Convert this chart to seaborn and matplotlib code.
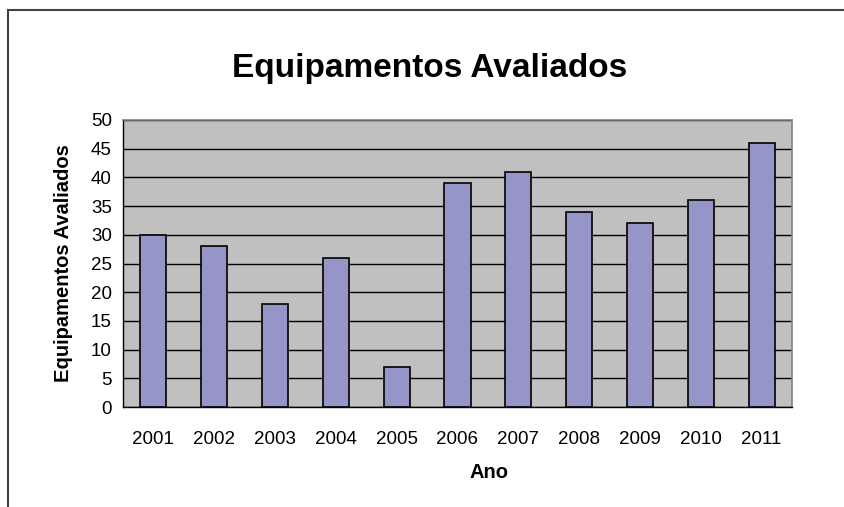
import matplotlib
matplotlib.use("Agg")
import matplotlib.pyplot as plt
import pandas as pd
import seaborn as sns
from matplotlib.patches import Rectangle

years = ["2001", "2002", "2003", "2004", "2005", "2006",
         "2007", "2008", "2009", "2010", "2011"]
counts = [30, 28, 18, 26, 7, 39, 41, 34, 32, 36, 46]
y_ticks = [0, 5, 10, 15, 20, 25, 30, 35, 40, 45, 50]

sns.set_style("white")
plt.rcParams["font.family"] = ["Liberation Sans", "DejaVu Sans"]
plt.rcParams["text.color"] = "black"
plt.rcParams["axes.labelcolor"] = "black"
plt.rcParams["xtick.color"] = "black"
plt.rcParams["ytick.color"] = "black"

df = pd.DataFrame({"Ano": years, "Equipamentos": counts})

fig = plt.figure(figsize=(8.45, 5.07), dpi=100)
fig.patch.set_facecolor("white")

# outer chart border (runs off the right and bottom edge)
fig.add_artist(Rectangle((8.5 / 845, -0.05), 1.2, (1 - 9.5 / 507) + 0.05,
                         transform=fig.transFigure, fill=False,
                         edgecolor="#404040", linewidth=1.5))

ax = fig.add_axes([123 / 845, 1 - 407 / 507, 669 / 845, 287 / 507])
ax.set_facecolor("#C0C0C0")

sns.barplot(data=df, x="Ano", y="Equipamentos", color="#9595C8",
            saturation=1, edgecolor="black", linewidth=1.2, width=0.43, ax=ax,
            zorder=3)

ax.set_ylim(0, 50)
ax.set_xlim(-0.5, len(years) - 0.5)
ax.set_yticks(y_ticks)
ax.yaxis.grid(True, color="black", linewidth=1)
ax.set_axisbelow(True)

for side in ["top", "right"]:
    ax.spines[side].set_color("#808080")
    ax.spines[side].set_linewidth(1.2)
for side in ["left", "bottom"]:
    ax.spines[side].set_color("black")
    ax.spines[side].set_linewidth(1)

# category boundary ticks on the x axis
ax.set_xticks([i - 0.5 for i in range(len(years) + 1)], minor=True)
ax.tick_params(axis="x", which="minor", length=5, width=1, color="black", direction="out")
ax.tick_params(axis="x", which="major", length=0, pad=17, labelsize=13.5)
ax.tick_params(axis="y", length=5, width=1, color="black", direction="out",
               labelsize=13.5, pad=3)

ax.set_xlabel("Ano", fontsize=14.5, fontweight="bold")
ax.set_ylabel("Equipamentos Avaliados", fontsize=14.5, fontweight="bold")
ax.xaxis.set_label_coords((489 - 123) / 669, -(473 - 407) / 287)
ax.yaxis.set_label_coords(-(123 - 64) / 669, 0.5)
ax.xaxis.label.set_va("center")
ax.yaxis.label.set_va("center")

fig.text(430 / 845, 1 - 68 / 507, "Equipamentos Avaliados", ha="center", va="center",
         fontsize=24, fontweight="bold")

fig.savefig("out.png", dpi=100)
